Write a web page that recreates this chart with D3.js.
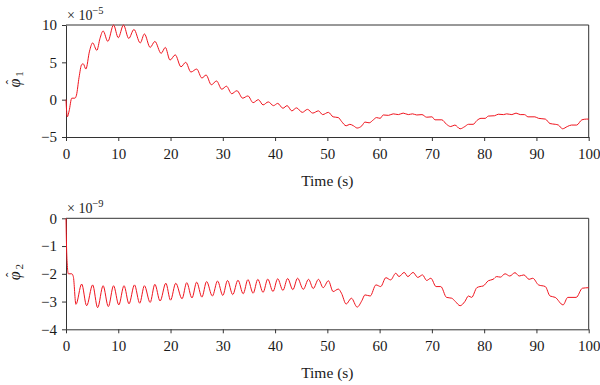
<!DOCTYPE html>
<html>
<head>
<meta charset="utf-8">
<script src="https://cdn.jsdelivr.net/npm/d3@7"></script>
<style>
  body { margin: 0; background: #fff; }
  svg { display: block; font-family: "Liberation Serif", "DejaVu Serif", serif; }
</style>
</head>
<body>
<svg id="chart" width="600" height="385"></svg>
<script>
// time (s) and phi1 (x 1e-5)
const timeTop = [0, 0.25, 0.6, 1.1, 1.7, 2.0, 2.5, 3.0, 3.3, 3.8, 4.5, 5.1, 5.9, 6.5, 7.1, 8.0, 9.1, 10.0, 11.0, 12.0,
    13.0, 14.2, 15.0, 16.1, 17.0, 18.2, 19.0, 19.9, 20.9, 22.0, 22.9, 23.9, 25.0, 26.0, 26.8, 27.8, 28.8, 29.8, 30.7, 31.7,
    32.7, 33.8, 34.8, 35.8, 36.8, 37.7, 38.7, 39.7, 40.5, 41.5, 42.3, 43.2, 44.1, 45.2, 46.2, 47.2, 48.3, 49.1, 50.2, 51.1,
    52.1, 52.7, 53.6, 54.3, 55.0, 55.7, 56.6, 57.2, 58.0, 58.8, 59.4, 60.1, 60.7, 61.7, 62.6, 63.6, 64.5, 65.5, 66.3, 67.1,
    68.1, 69.0, 70.0, 70.6, 71.9, 72.8, 73.6, 74.4, 75.4, 76.3, 77.0, 77.9, 78.6, 79.4, 80.2, 80.8, 82.0, 82.7, 83.7, 84.3,
    85.3, 86.1, 86.9, 87.7, 88.4, 89.7, 90.4, 91.7, 92.6, 93.6, 94.2, 95.0, 95.9, 96.7, 97.7, 98.7, 99.6, 100];
const phi1 = [0, -2.3, -1.5, 0.2, 0.2, 0.6, 3.0, 4.7, 4.8, 4.1, 6.5, 7.6, 6.6, 8.2, 9.2, 7.8, 10.0, 8.3, 10.0, 8.2,
    9.4, 7.6, 8.8, 7.0, 7.8, 6.2, 7.0, 5.3, 6.0, 4.4, 5.0, 3.7, 4.1, 2.9, 3.3, 2.0, 2.5, 1.4, 1.8, 0.8,
    1.2, 0.2, 0.5, -0.4, 0.0, -0.7, -0.3, -0.8, -0.5, -1.15, -0.8, -1.5, -1.1, -1.7, -1.3, -1.8, -1.5, -2.0, -1.7, -2.3,
    -2.4, -2.9, -3.5, -3.3, -3.5, -3.8, -3.5, -3.0, -3.1, -2.7, -2.4, -2.5, -2.05, -2.1, -1.9, -2.0, -1.8, -2.0, -1.9, -2.05,
    -2.0, -2.35, -2.3, -2.7, -2.7, -3.3, -3.6, -3.4, -3.9, -3.6, -3.3, -3.3, -2.8, -2.5, -2.5, -2.2, -2.15, -1.95, -2.0, -1.9,
    -2.0, -1.8, -2.0, -2.0, -2.3, -2.3, -2.5, -2.6, -3.2, -3.3, -3.4, -3.9, -3.6, -3.4, -3.4, -2.7, -2.6, -2.6];

// time (s) and phi2 (x 1e-9)
const timeBottom = [0, 0.1, 0.25, 0.45, 1.1, 1.4, 1.9, 3.0, 3.95, 5.1, 6.05, 7.1, 8.1, 9.1, 10.1, 11.1, 12.05, 13.1, 14.1, 15.0,
    16.1, 17.0, 18.0, 19.1, 20.0, 21.0, 22.2, 23.1, 24.1, 25.0, 26.0, 26.9, 28.0, 29.0, 30.0, 30.9, 31.9, 32.9, 33.9, 34.8,
    35.8, 36.7, 37.7, 38.6, 39.6, 40.5, 41.5, 42.4, 43.4, 44.3, 45.4, 46.4, 47.3, 48.3, 49.2, 50.2, 51.1, 52.1, 52.7, 53.6,
    54.6, 55.7, 56.6, 57.2, 58.2, 59.3, 60.2, 61.2, 62.1, 63.1, 63.7, 64.7, 65.4, 66.4, 67.3, 68.2, 69.0, 69.8, 70.8, 71.7,
    72.8, 73.8, 74.5, 75.4, 76.3, 77.0, 77.6, 78.6, 79.2, 79.8, 80.8, 81.7, 82.4, 83.1, 84.0, 84.9, 85.9, 86.7, 87.6, 88.6,
    89.3, 90.4, 91.7, 92.6, 93.6, 95.1, 96.0, 97.6, 98.8, 100];
const phi2 = [0, -1.0, -1.7, -2.0, -2.0, -2.1, -3.1, -2.37, -3.15, -2.4, -3.22, -2.43, -3.18, -2.43, -3.12, -2.43, -3.08, -2.4, -3.06, -2.43,
    -3.03, -2.38, -2.98, -2.34, -2.95, -2.34, -2.9, -2.32, -2.87, -2.3, -2.84, -2.28, -2.8, -2.26, -2.78, -2.24, -2.75, -2.23, -2.72, -2.21,
    -2.7, -2.2, -2.67, -2.19, -2.64, -2.18, -2.6, -2.17, -2.57, -2.16, -2.56, -2.2, -2.53, -2.2, -2.5, -2.25, -2.64, -2.55, -2.7, -3.09,
    -2.88, -3.2, -2.97, -2.76, -2.8, -2.4, -2.46, -2.14, -2.22, -1.98, -2.1, -1.95, -2.1, -1.95, -2.13, -2.04, -2.24, -2.16, -2.46, -2.46,
    -2.85, -2.88, -3.0, -3.15, -3.0, -2.8, -2.85, -2.5, -2.46, -2.44, -2.25, -2.2, -2.1, -2.12, -2.0, -2.08, -1.96, -2.08, -2.04, -2.2,
    -2.16, -2.4, -2.46, -2.8, -2.85, -3.12, -2.85, -2.85, -2.52, -2.5];

const xTicks = [0, 10, 20, 30, 40, 50, 60, 70, 80, 90, 100];
const yTicksTop = [-5, 0, 5, 10];
const yTicksBottom = [-4, -3, -2, -1, 0];

const svg = d3.select("#chart");
const left = 66, right = 588.7;
const axisColor = "#333";
const fmt = d3.format("d");

function drawPanel({ top, bottom, times, values, yDomain, yTicks, exponent, sub }) {
    const x = d3.scaleLinear().domain([0, 100]).range([left, right]);
    const y = d3.scaleLinear().domain(yDomain).range([bottom, top]);
    const g = svg.append("g");

    // box top/right
    g.append("path")
        .attr("d", `M${left},${top}H${right}V${bottom}`)
        .attr("fill", "none").attr("stroke", axisColor).attr("stroke-width", 1);

    const xAxis = g.append("g")
        .attr("transform", `translate(0,${bottom})`)
        .call(d3.axisBottom(x).tickValues(xTicks).tickFormat(fmt).tickSize(4).tickPadding(7).tickSizeOuter(0));
    const yAxis = g.append("g")
        .attr("transform", `translate(${left},0)`)
        .call(d3.axisLeft(y).tickValues(yTicks).tickFormat(fmt).tickSize(4).tickPadding(5).tickSizeOuter(0));

    [xAxis, yAxis].forEach(a => {
        a.select(".domain").attr("stroke", axisColor);
        a.selectAll(".tick line").attr("stroke", axisColor);
        a.selectAll(".tick text")
            .attr("fill", "#1a1a1a")
            .attr("font-size", 15)
            .attr("font-family", "Liberation Serif, serif");
    });

    const line = d3.line()
        .x((d, i) => x(times[i]))
        .y(d => y(d))
        .curve(d3.curveMonotoneX);

    g.append("path")
        .datum(values)
        .attr("d", line)
        .attr("fill", "none")
        .attr("stroke", "#f0141e")
        .attr("stroke-width", 1);

    g.append("text")
        .attr("x", (left + right) / 2)
        .attr("y", bottom + 49)
        .attr("text-anchor", "middle")
        .attr("font-size", 15.5)
        .attr("fill", "#1a1a1a")
        .text("Time (s)");

    // multiplier
    const m = g.append("text")
        .attr("x", left + 1)
        .attr("y", top - 5)
        .attr("font-size", 14)
        .attr("fill", "#1a1a1a");
    m.append("tspan").text("× 10");
    m.append("tspan").attr("dy", -6).attr("font-size", 10.5).text(exponent);

    // y label: phi with hat and subscript, rotated
    const cy = (top + bottom) / 2 - 2;
    const lab = g.append("g").attr("transform", `translate(20,${cy}) rotate(-90)`);
    lab.append("text")
        .attr("x", -4).attr("y", 0)
        .attr("text-anchor", "middle")
        .attr("font-size", 16)
        .attr("font-style", "italic")
        .attr("fill", "#1a1a1a")
        .text("φ");
    lab.append("text")
        .attr("x", -3).attr("y", -5)
        .attr("text-anchor", "middle")
        .attr("font-size", 13)
        .attr("fill", "#1a1a1a")
        .text("ˆ");
    lab.append("text")
        .attr("x", 5).attr("y", 3)
        .attr("text-anchor", "middle")
        .attr("font-size", 11)
        .attr("fill", "#1a1a1a")
        .text(sub);
}

drawPanel({ top: 25, bottom: 137, times: timeTop, values: phi1, yDomain: [-5, 10], yTicks: yTicksTop, exponent: "−5", sub: "1" });
drawPanel({ top: 218.3, bottom: 329.3, times: timeBottom, values: phi2, yDomain: [-4, 0], yTicks: yTicksBottom, exponent: "−9", sub: "2" });
</script>
</body>
</html>
